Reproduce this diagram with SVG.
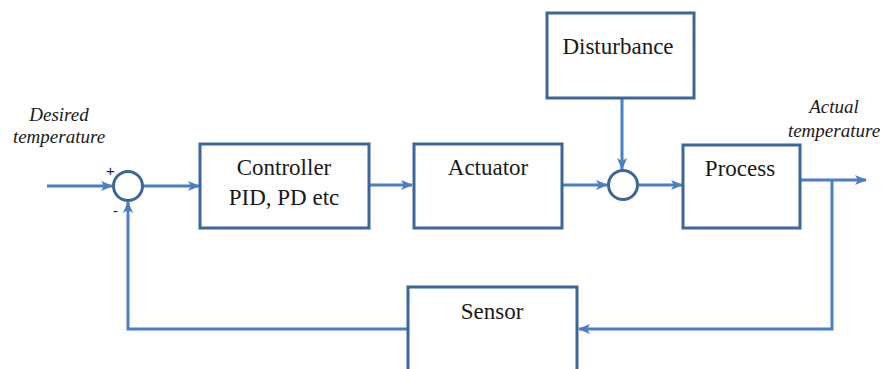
<svg xmlns="http://www.w3.org/2000/svg" width="885" height="369" viewBox="0 0 885 369">
  <style>
    .box { fill: #ffffff; stroke: #3c6598; stroke-width: 3; }
    .sum { fill: #ffffff; stroke: #3c6598; stroke-width: 3; }
    .wire { fill: none; stroke: #4a7fc0; stroke-width: 3; }
    .lbl { font-family: 'Liberation Serif', 'Times New Roman', Times, serif; font-size: 23px; fill: #1a1a1a; text-anchor: middle; }
    .sig { font-family: 'Liberation Serif', 'Times New Roman', serif; font-style: italic; font-size: 19px; fill: #1a1a1a; text-anchor: middle; }
    .sign { font-family: 'Liberation Sans', Arial, sans-serif; font-size: 15px; fill: #1a1a1a; }
  </style>
  <defs>
    <marker id="arrow" viewBox="0 0 12 10" refX="11" refY="5" markerWidth="12" markerHeight="10" markerUnits="userSpaceOnUse" orient="auto">
      <path d="M0,0 L12,5 L0,10 L3,5 Z" fill="#4a7fc0"/>
    </marker>
  </defs>

  <rect width="885" height="369" fill="#ffffff"/>

  <!-- signal labels -->
  <text class="sig" x="59" y="121">Desired</text>
  <text class="sig" x="59" y="143">temperature</text>
  <text class="sig" x="834" y="113">Actual</text>
  <text class="sig" x="834" y="137">temperature</text>

  <!-- connectors -->
  <g id="connectors">
    <path class="wire" d="M47,186 L112,186" marker-end="url(#arrow)"/>
    <path class="wire" d="M143,186 L199,186" marker-end="url(#arrow)"/>
    <path class="wire" d="M369,185 L412,185" marker-end="url(#arrow)"/>
    <path class="wire" d="M562,185 L607,185" marker-end="url(#arrow)"/>
    <path class="wire" d="M622,98 L622,169" marker-end="url(#arrow)"/>
    <path class="wire" d="M638,185 L682,185" marker-end="url(#arrow)"/>
    <path class="wire" d="M800,180 L866,180" marker-end="url(#arrow)"/>
    <path class="wire" d="M832,180 L832,329 L579,329" marker-end="url(#arrow)"/>
    <path class="wire" d="M408,329 L128,329 L128,202" marker-end="url(#arrow)"/>
  </g>

  <!-- comparator -->
  <g id="sum1">
    <circle class="sum" cx="128" cy="186" r="14.5"/>
    <text class="sign" x="106" y="176">+</text>
    <text class="sign" x="113" y="216">-</text>
  </g>

  <g id="controller">
    <rect class="box" x="200" y="144" width="169" height="84"/>
    <text class="lbl" x="284" y="175">Controller</text>
    <text class="lbl" x="284" y="205">PID, PD etc</text>
  </g>

  <g id="actuator">
    <rect class="box" x="414" y="144" width="148" height="84"/>
    <text class="lbl" x="488" y="175">Actuator</text>
  </g>

  <g id="disturbance">
    <rect class="box" x="547" y="13" width="147" height="85"/>
    <text class="lbl" x="618" y="54">Disturbance</text>
  </g>

  <g id="sum2">
    <circle class="sum" cx="623" cy="185" r="14.5"/>
  </g>

  <g id="process">
    <rect class="box" x="683" y="145" width="117" height="83"/>
    <text class="lbl" x="740" y="176">Process</text>
  </g>

  <g id="sensor">
    <rect class="box" x="408" y="287" width="169" height="90"/>
    <text class="lbl" x="492" y="319">Sensor</text>
  </g>
</svg>
